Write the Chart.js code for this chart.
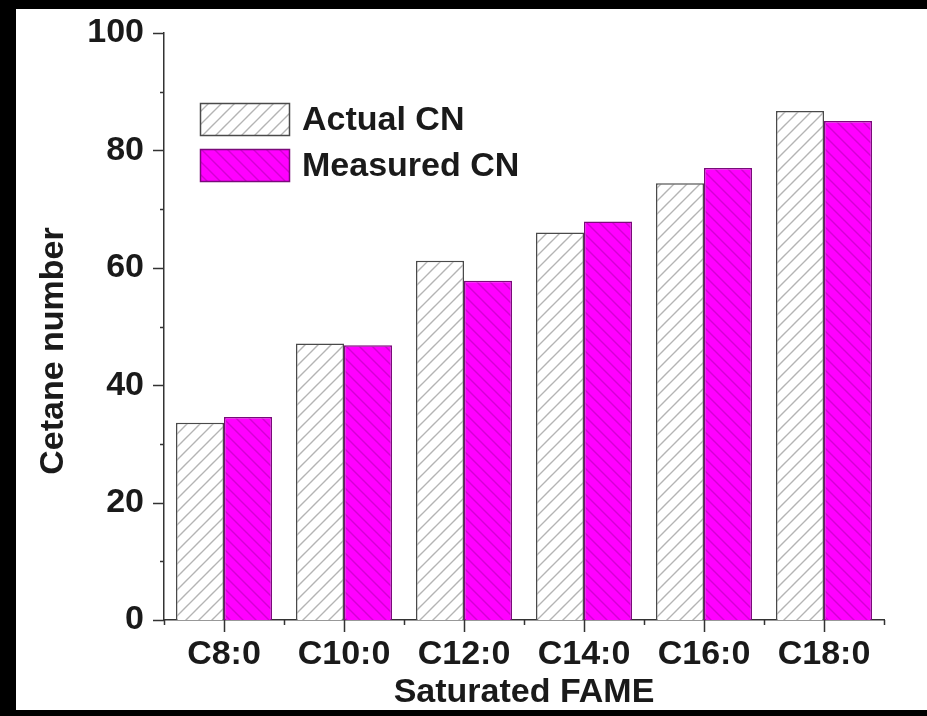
<!DOCTYPE html>
<html lang="en">
<head>
    <meta charset="UTF-8">
    <title>Cetane number of saturated FAME</title>
    <script src="https://cdn.jsdelivr.net/npm/chart.js@4.4.0/dist/chart.umd.min.js"></script>
    <style>
        body { margin: 0; background: #fff; }
        canvas { display: block; }
    </style>
</head>
<body>
    <canvas id="chart" width="927" height="716"></canvas>

    <script>
        const labels = ['C8:0', 'C10:0', 'C12:0', 'C14:0', 'C16:0', 'C18:0'];
        const actualCN = [33.6, 47.1, 61.2, 66.0, 74.4, 86.7];
        const measuredCN = [34.6, 46.8, 57.8, 67.9, 77.0, 85.0];
        const yTicks = [0, 20, 40, 60, 80, 100];

        const FONT = "'Liberation Sans', Arial, sans-serif";

        // diagonal hatch fill
        function hatch(bg, line, dir) {
            const s = 13;
            const c = document.createElement('canvas');
            c.width = s; c.height = s;
            const g = c.getContext('2d');
            g.fillStyle = bg;
            g.fillRect(0, 0, s, s);
            g.strokeStyle = line;
            g.lineWidth = 1.4;
            g.beginPath();
            if (dir > 0) {
                g.moveTo(-1, s + 1); g.lineTo(s + 1, -1);
                g.moveTo(-1, 1); g.lineTo(1, -1);
                g.moveTo(s - 1, s + 1); g.lineTo(s + 1, s - 1);
            } else {
                g.moveTo(-1, -1); g.lineTo(s + 1, s + 1);
                g.moveTo(s - 1, -1); g.lineTo(s + 1, 1);
                g.moveTo(-1, s - 1); g.lineTo(1, s + 1);
            }
            g.stroke();
            return g.createPattern(c, 'repeat');
        }

        const ctx = document.getElementById('chart').getContext('2d');
        const actualFill = hatch('#ffffff', '#b4b4b4', 1);
        const measuredFill = hatch('#ff00ff', '#d400d4', -1);

        // ticks outside the axes, major + minor
        const tickMarks = {
            id: 'tickMarks',
            afterDraw(chart) {
                const c = chart.ctx;
                const x = chart.scales.x, y = chart.scales.y;
                const ax = chart.chartArea.left, ay = chart.chartArea.bottom;
                c.save();
                c.strokeStyle = '#333';
                c.lineWidth = 1.5;
                c.beginPath();
                for (let v = 0; v <= 100; v += 10) {
                    const py = Math.round(y.getPixelForValue(v)) + 0.5;
                    const len = v % 20 === 0 ? 11 : 4;
                    c.moveTo(ax - len, py); c.lineTo(ax, py);
                }
                for (let i = 0; i < labels.length; i++) {
                    const px = Math.round(x.getPixelForValue(i)) + 0.5;
                    c.moveTo(px, ay); c.lineTo(px, ay + 12);
                }
                for (let i = 0; i <= labels.length; i++) {
                    const px = Math.round(x.getPixelForValue(i - 0.5)) + 0.5;
                    c.moveTo(px, ay); c.lineTo(px, ay + 5);
                }
                c.stroke();
                c.restore();
            }
        };

        // legend inside plot, y title and the picture frame
        const extras = {
            id: 'extras',
            afterDraw(chart) {
                const c = chart.ctx;
                c.save();
                const rows = [[103, 130], [149, 176]];
                chart.data.datasets.forEach((ds, i) => {
                    const [by, ty] = rows[i];
                    c.fillStyle = ds.backgroundColor;
                    c.fillRect(200, by, 90, 33);
                    c.strokeStyle = ds.borderColor;
                    c.lineWidth = 1.5;
                    c.strokeRect(200.5, by + 0.5, 89, 32);
                    c.fillStyle = '#1a1a1a';
                    c.font = 'bold 34px ' + FONT;
                    c.textBaseline = 'alphabetic';
                    c.textAlign = 'left';
                    c.fillText(ds.label, 302, ty);
                });

                c.translate(63, 351);
                c.rotate(-Math.PI / 2);
                c.textAlign = 'center';
                c.fillText('Cetane number', 0, 0);
                c.setTransform(1, 0, 0, 1, 0, 0);

                c.fillStyle = '#000';
                c.fillRect(0, 0, 927, 9);
                c.fillRect(0, 0, 16, 716);
                c.fillRect(0, 710, 927, 6);
                c.restore();
            }
        };

        new Chart(ctx, {
            type: 'bar',
            data: {
                labels: labels,
                datasets: [{
                    label: 'Actual CN',
                    data: actualCN,
                    backgroundColor: actualFill,
                    borderColor: '#4a4a4a',
                    borderWidth: 1.5
                },
                {
                    label: 'Measured CN',
                    data: measuredCN,
                    backgroundColor: measuredFill,
                    borderColor: '#7a0a7a',
                    borderWidth: 1.5
                }]
            },
            options: {
                responsive: false,
                animation: false,
                events: [],
                layout: { padding: { left: 0, right: 43, top: 33, bottom: 0 } },
                datasets: { bar: { categoryPercentage: 0.8, barPercentage: 1.0 } },
                plugins: {
                    legend: { display: false },
                    tooltip: { enabled: false }
                },
                scales: {
                    x: {
                        grid: { display: false, drawTicks: false, tickLength: 0 },
                        border: { display: true, color: '#333', width: 1.5 },
                        ticks: {
                            padding: 14,
                            color: '#1a1a1a',
                            font: { family: FONT, size: 34, weight: 'bold' }
                        },
                        title: {
                            display: true,
                            text: 'Saturated FAME',
                            color: '#1a1a1a',
                            padding: { top: 0, bottom: 3 },
                            font: { family: FONT, size: 34, weight: 'bold' }
                        },
                        afterFit(scale) {
                            scale.height = 96;
                            scale.paddingLeft = 0;
                            scale.paddingRight = 0;
                        }
                    },
                    y: {
                        min: 0,
                        max: 100,
                        afterBuildTicks(scale) {
                            scale.ticks = yTicks.map(v => ({ value: v }));
                        },
                        grid: { display: false, drawTicks: false, tickLength: 0 },
                        border: { display: true, color: '#333', width: 1.5 },
                        ticks: {
                            padding: 20,
                            color: '#1a1a1a',
                            font: { family: FONT, size: 34, weight: 'bold' }
                        },
                        afterFit(scale) {
                            scale.width = 164;
                            scale.paddingTop = 0;
                            scale.paddingBottom = 0;
                        }
                    }
                }
            },
            plugins: [tickMarks, extras]
        });
    </script>
</body>
</html>
